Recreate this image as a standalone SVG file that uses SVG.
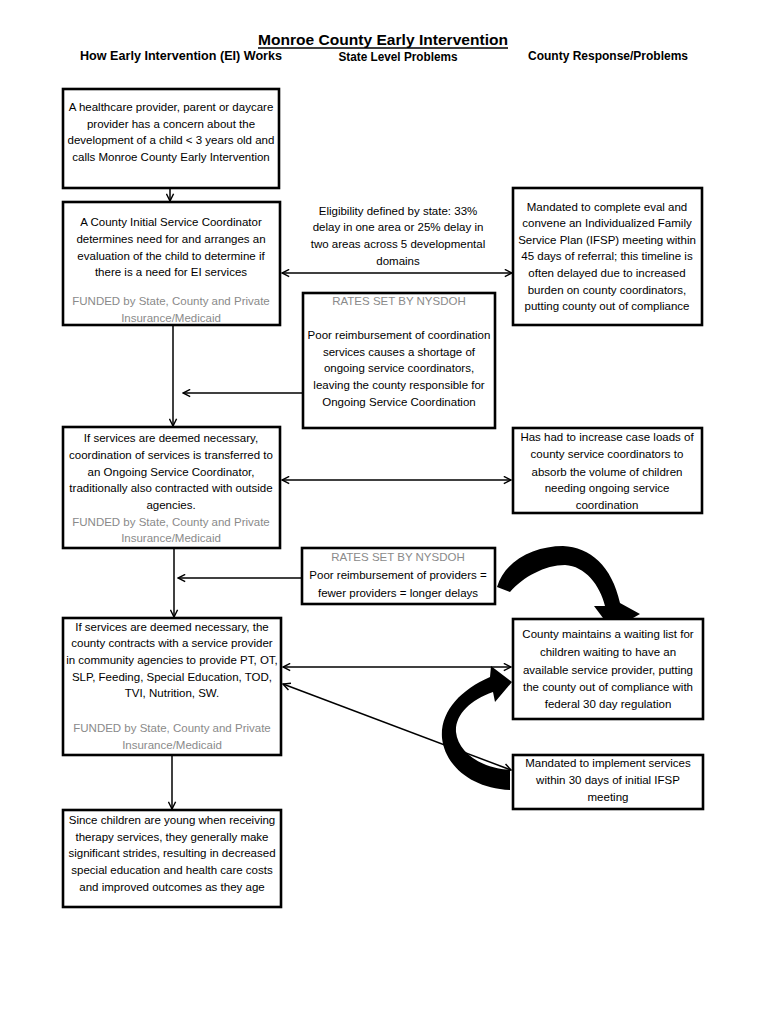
<svg xmlns="http://www.w3.org/2000/svg" width="768" height="1024" viewBox="0 0 768 1024">
<defs>
<style>
text{font-family:"Liberation Sans",Arial,sans-serif;font-size:11.5px;fill:#000;text-anchor:middle}
.g{fill:#8a8a8a}
.h{font-weight:bold;font-size:12px}
.t{font-weight:bold;font-size:15px}
.box{fill:#fff;stroke:#000;stroke-width:2.6}
.c{fill:none;stroke:#000;stroke-width:1.5}
</style>
<marker id="ah" viewBox="0 0 10 10" refX="9" refY="5" markerWidth="9" markerHeight="9" markerUnits="userSpaceOnUse" orient="auto-start-reverse">
<path d="M1,1 L9,5 L1,9" fill="none" stroke="#000" stroke-width="1.6"/>
</marker>
</defs>
<rect width="768" height="1024" fill="#fff"/>

<g id="title">
<text class="t" x="383" y="45" textLength="250" lengthAdjust="spacingAndGlyphs">Monroe County Early Intervention</text>
<line x1="258" y1="48" x2="508" y2="48" stroke="#000" stroke-width="1.3"/>
<text class="h" x="181" y="60" textLength="202" lengthAdjust="spacingAndGlyphs">How Early Intervention (EI)  Works</text>
<text class="h" x="398" y="61" textLength="119" lengthAdjust="spacingAndGlyphs">State Level Problems</text>
<text class="h" x="608" y="60" textLength="160" lengthAdjust="spacingAndGlyphs">County Response/Problems</text>
</g>

<g id="connectors">
<line class="c" x1="170" y1="188" x2="170" y2="201" marker-end="url(#ah)"/>
<line class="c" x1="173" y1="325" x2="173" y2="426" marker-end="url(#ah)"/>
<line class="c" x1="303" y1="393" x2="183" y2="393" marker-end="url(#ah)"/>
<line class="c" x1="282" y1="273" x2="512" y2="273" marker-start="url(#ah)" marker-end="url(#ah)"/>
<line class="c" x1="282" y1="480" x2="511" y2="480" marker-start="url(#ah)" marker-end="url(#ah)"/>
<line class="c" x1="174" y1="548" x2="174" y2="617" marker-end="url(#ah)"/>
<line class="c" x1="302" y1="578" x2="178" y2="578" marker-end="url(#ah)"/>
<line class="c" x1="283" y1="667" x2="511" y2="667" marker-start="url(#ah)" marker-end="url(#ah)"/>
<line class="c" x1="283" y1="684" x2="511" y2="770" marker-start="url(#ah)" marker-end="url(#ah)"/>
<line class="c" x1="172" y1="755" x2="172" y2="809" marker-end="url(#ah)"/>
<path d="M497,587 C505,560 535,546 563,546 C590,547 612,566 620,603 L640,614 L612,630 L594,606 L605,606 C600,585 585,566 565,565 C545,565 523,577 510,592 Z" fill="#000"/>
<path d="M510,790 C470,788 445,765 442,738 C440,712 460,690 490,677 L491,666 L512,682 L495,702 L493,692 C470,700 455,715 456,732 C458,752 480,768 510,770 Z" fill="#000"/>
</g>

<g id="n1">
<rect class="box" x="63" y="89" width="216" height="99"/>
<text x="171" y="111">A healthcare provider, parent or daycare</text>
<text x="171" y="128">provider has a concern about the</text>
<text x="171" y="144">development of a child &lt; 3 years old and</text>
<text x="171" y="161">calls Monroe County Early Intervention</text>
</g>

<g id="n2">
<rect class="box" x="63" y="202" width="217" height="123"/>
<text x="171" y="226">A County Initial Service Coordinator</text>
<text x="171" y="243">determines need for and arranges an</text>
<text x="171" y="260">evaluation of the child to determine if</text>
<text x="171" y="276">there is a need for EI services</text>
<text class="g" x="171" y="305">FUNDED by State, County and Private</text>
<text class="g" x="171" y="322">Insurance/Medicaid</text>
</g>

<g id="elig">
<text x="398" y="215">Eligibility defined by state: 33%</text>
<text x="398" y="231">delay in one area or 25% delay in</text>
<text x="398" y="248">two areas across 5  developmental</text>
<text x="398" y="265">domains</text>
</g>

<g id="r1">
<rect class="box" x="513" y="188" width="189" height="137"/>
<text x="607" y="211">Mandated to complete eval and</text>
<text x="607" y="227">convene an Individualized Family</text>
<text x="607" y="244">Service Plan (IFSP) meeting within</text>
<text x="607" y="260">45 days of referral; this timeline is</text>
<text x="607" y="277">often delayed due to increased</text>
<text x="607" y="294">burden on county coordinators,</text>
<text x="607" y="310">putting county out of compliance</text>
</g>

<g id="s1">
<rect class="box" x="303" y="293" width="192" height="135"/>
<text class="g" x="399" y="305">RATES SET BY NYSDOH</text>
<text x="399" y="339">Poor reimbursement of coordination</text>
<text x="399" y="356">services causes a shortage of</text>
<text x="399" y="372">ongoing service coordinators,</text>
<text x="399" y="389">leaving the county responsible for</text>
<text x="399" y="406">Ongoing Service Coordination</text>
</g>

<g id="n3">
<rect class="box" x="63" y="427" width="217" height="121"/>
<text x="171" y="442">If services are deemed necessary,</text>
<text x="171" y="459">coordination of services is transferred to</text>
<text x="171" y="476">an Ongoing Service Coordinator,</text>
<text x="171" y="492">traditionally also contracted with outside</text>
<text x="171" y="509">agencies.</text>
<text class="g" x="171" y="526">FUNDED by State, County and Private</text>
<text class="g" x="171" y="542">Insurance/Medicaid</text>
</g>

<g id="r2">
<rect class="box" x="513" y="428" width="189" height="85"/>
<text x="607" y="441">Has had to increase case loads of</text>
<text x="607" y="458">county service coordinators to</text>
<text x="607" y="476">absorb the volume of children</text>
<text x="607" y="492">needing ongoing service</text>
<text x="607" y="509">coordination</text>
</g>

<g id="s2">
<rect class="box" x="302" y="548" width="193" height="56"/>
<text class="g" x="398" y="561">RATES SET BY NYSDOH</text>
<text x="398" y="579">Poor reimbursement of providers =</text>
<text x="398" y="597">fewer providers = longer delays</text>
</g>

<g id="n4">
<rect class="box" x="63" y="618" width="218" height="137"/>
<text x="172" y="631">If services are deemed necessary, the</text>
<text x="172" y="647">county contracts with a service provider</text>
<text x="172" y="664">in community agencies to provide PT, OT,</text>
<text x="172" y="681">SLP, Feeding, Special Education, TOD,</text>
<text x="172" y="697">TVI, Nutrition, SW.</text>
<text class="g" x="172" y="732">FUNDED by State, County and Private</text>
<text class="g" x="172" y="749">Insurance/Medicaid</text>
</g>

<g id="r3">
<rect class="box" x="513" y="619" width="190" height="100"/>
<text x="608" y="638">County maintains a waiting list for</text>
<text x="608" y="656">children waiting to have an</text>
<text x="608" y="674">available service provider, putting</text>
<text x="608" y="691">the county out of compliance with</text>
<text x="608" y="708">federal 30  day regulation</text>
</g>

<g id="r4">
<rect class="box" x="513" y="755" width="190" height="54"/>
<text x="608" y="767">Mandated to implement services</text>
<text x="608" y="784">within 30 days of initial IFSP</text>
<text x="608" y="801">meeting</text>
</g>

<g id="n5">
<rect class="box" x="63" y="810" width="218" height="97"/>
<text x="172" y="824">Since children are young when receiving</text>
<text x="172" y="841">therapy services, they generally make</text>
<text x="172" y="857">significant strides, resulting in decreased</text>
<text x="172" y="874">special education and health care costs</text>
<text x="172" y="891">and improved outcomes as they age</text>
</g>
</svg>
